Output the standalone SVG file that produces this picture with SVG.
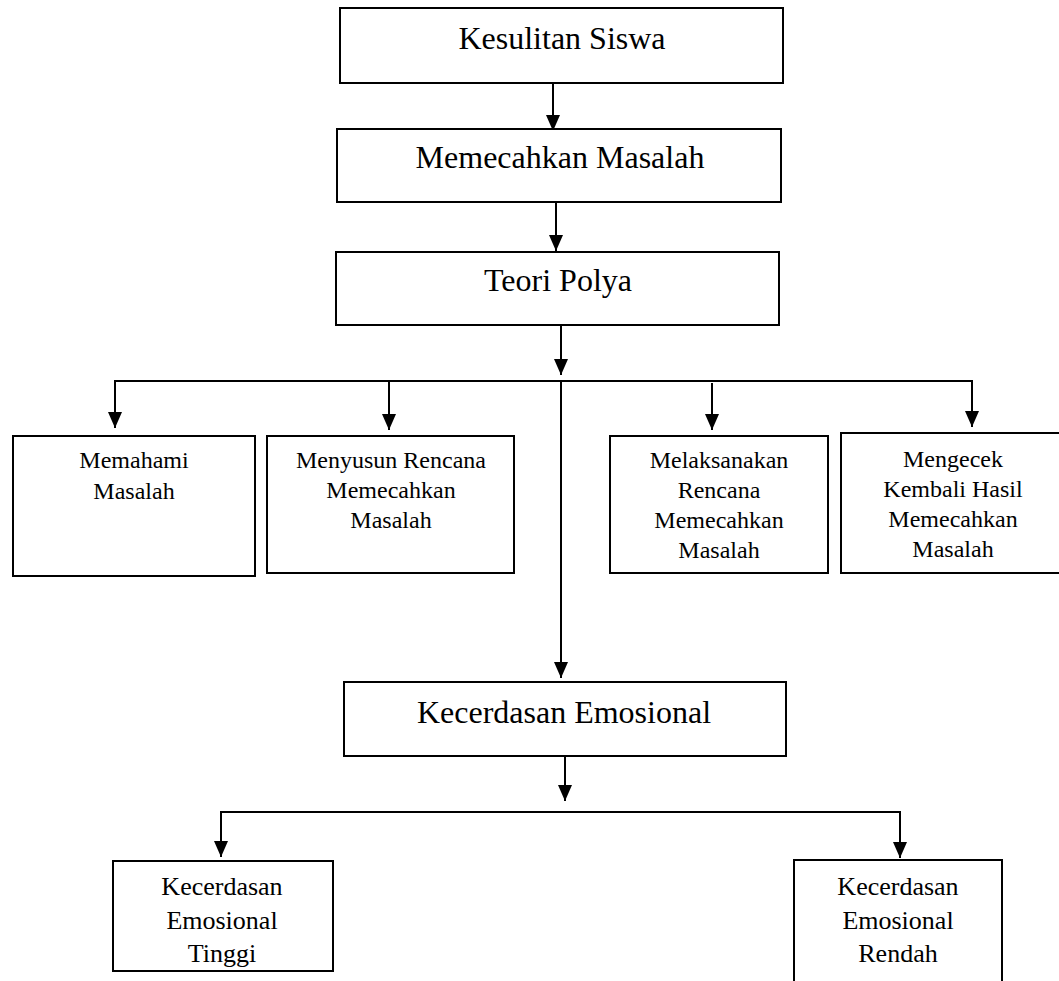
<svg xmlns="http://www.w3.org/2000/svg" width="1059" height="981" viewBox="0 0 1059 981">
<style>
rect{fill:#fff;stroke:#000;stroke-width:2}
text{font-family:"Liberation Serif","Times New Roman",serif;fill:#000;text-anchor:middle}
.big{font-size:32px}
.mid{font-size:24px}
.sm{font-size:26px}
#connectors line{stroke:#000;stroke-width:2;fill:none}
</style>
<defs>
<marker id="ah" markerUnits="userSpaceOnUse" markerWidth="16" markerHeight="14" viewBox="0 0 16 14" refX="16" refY="7" orient="auto">
<path d="M0,0 L16,7 L0,14 Z" fill="#000"/>
</marker>
</defs>
<rect x="0" y="0" width="1059" height="981" style="stroke:none;fill:#fff"/>
<g id="connectors">
<line x1="553" y1="83" x2="553" y2="131" marker-end="url(#ah)"/>
<line x1="556" y1="203" x2="556" y2="251" marker-end="url(#ah)"/>
<line x1="561" y1="326" x2="561" y2="375" marker-end="url(#ah)"/>
<line x1="114" y1="381" x2="973" y2="381"/>
<line x1="115" y1="381" x2="115" y2="428" marker-end="url(#ah)"/>
<line x1="389" y1="381" x2="389" y2="430" marker-end="url(#ah)"/>
<line x1="712" y1="383" x2="712" y2="430" marker-end="url(#ah)"/>
<line x1="972" y1="381" x2="972" y2="427" marker-end="url(#ah)"/>
<line x1="561" y1="381" x2="561" y2="678" marker-end="url(#ah)"/>
<line x1="565" y1="757" x2="565" y2="801" marker-end="url(#ah)"/>
<line x1="220" y1="812" x2="901" y2="812"/>
<line x1="221" y1="812" x2="221" y2="857" marker-end="url(#ah)"/>
<line x1="900" y1="812" x2="900" y2="858" marker-end="url(#ah)"/>
</g>
<g id="n-kesulitan">
<rect x="340" y="8" width="443" height="75"/>
<text class="big" x="562" y="49">Kesulitan Siswa</text>
</g>
<g id="n-memecahkan">
<rect x="337" y="129" width="444" height="73"/>
<text class="big" x="560" y="168">Memecahkan Masalah</text>
</g>
<g id="n-polya">
<rect x="336" y="252" width="443" height="73"/>
<text class="big" x="558" y="291">Teori Polya</text>
</g>
<g id="n-memahami">
<rect x="13" y="436" width="242" height="140"/>
<text class="mid" x="134" y="468">Memahami</text>
<text class="mid" x="134" y="499">Masalah</text>
</g>
<g id="n-menyusun">
<rect x="267" y="436" width="247" height="137"/>
<text class="mid" x="391" y="468">Menyusun Rencana</text>
<text class="mid" x="391" y="498">Memecahkan</text>
<text class="mid" x="391" y="528">Masalah</text>
</g>
<g id="n-melaksanakan">
<rect x="610" y="436" width="218" height="137"/>
<text class="mid" x="719" y="468">Melaksanakan</text>
<text class="mid" x="719" y="498">Rencana</text>
<text class="mid" x="719" y="528">Memecahkan</text>
<text class="mid" x="719" y="558">Masalah</text>
</g>
<g id="n-mengecek">
<rect x="841" y="433" width="222" height="140"/>
<text class="mid" x="953" y="467">Mengecek</text>
<text class="mid" x="953" y="497">Kembali Hasil</text>
<text class="mid" x="953" y="527">Memecahkan</text>
<text class="mid" x="953" y="557">Masalah</text>
</g>
<g id="n-ke">
<rect x="344" y="682" width="442" height="74"/>
<text class="big" x="564" y="723">Kecerdasan Emosional</text>
</g>
<g id="n-ke-tinggi">
<rect x="113" y="861" width="220" height="110"/>
<text class="sm" x="222" y="895">Kecerdasan</text>
<text class="sm" x="222" y="929">Emosional</text>
<text class="sm" x="222" y="962">Tinggi</text>
</g>
<g id="n-ke-rendah">
<rect x="794" y="860" width="208" height="130"/>
<text class="sm" x="898" y="895">Kecerdasan</text>
<text class="sm" x="898" y="929">Emosional</text>
<text class="sm" x="898" y="962">Rendah</text>
</g>
</svg>
